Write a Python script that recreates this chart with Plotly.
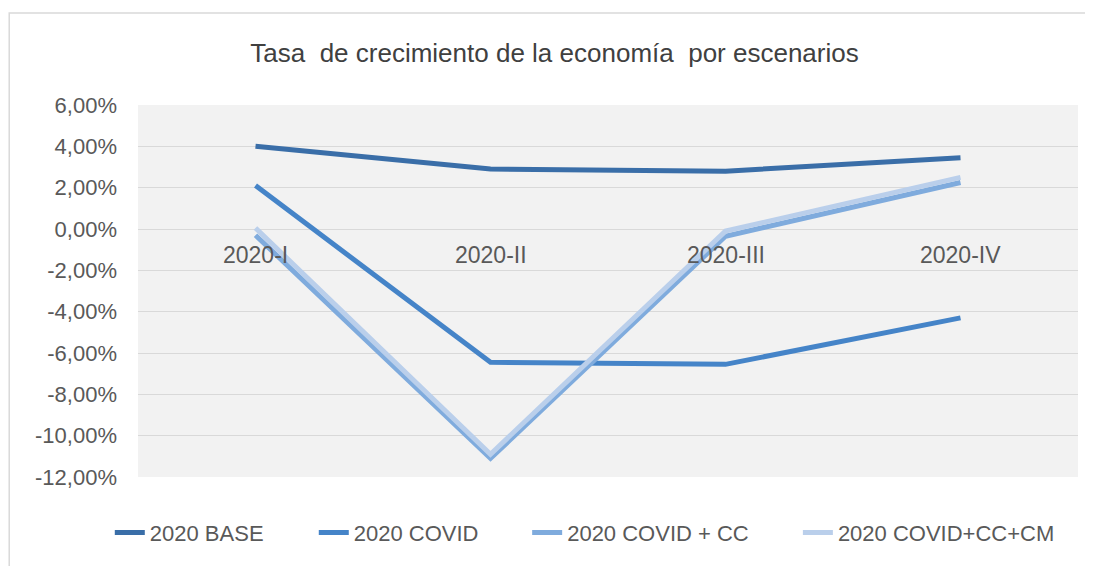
import plotly.graph_objects as go

# Tasa de crecimiento trimestral por escenario (en fracción)
trimestres = ["2020-I", "2020-II", "2020-III", "2020-IV"]
base = [0.0400, 0.0290, 0.0280, 0.0345]
covid = [0.0210, -0.0645, -0.0655, -0.0430]
covid_cc = [-0.0030, -0.1110, -0.0035, 0.0225]
covid_cc_cm = [0.0005, -0.1090, -0.0010, 0.0250]

y_ticks = [0.06, 0.04, 0.02, 0.0, -0.02, -0.04, -0.06, -0.08, -0.10, -0.12]
y_labels = ["6,00%", "4,00%", "2,00%", "0,00%", "-2,00%", "-4,00%", "-6,00%",
            "-8,00%", "-10,00%", "-12,00%"]

series = [
    ("2020 BASE", base, "#3A6EA8"),
    ("2020 COVID", covid, "#4584C8"),
    ("2020 COVID + CC", covid_cc, "#7FABDD"),
    ("2020 COVID+CC+CM", covid_cc_cm, "#BACFEB"),
]
# one legend per series so the entries spread out like the original
legend_x = [-0.030, 0.187, 0.414, 0.702]

font_fam = "Liberation Sans, Arial"
grey_txt = "#595959"

fig = go.Figure()
for i, (name, vals, col) in enumerate(series):
    lg = "legend" if i == 0 else f"legend{i + 1}"
    fig.add_trace(go.Scatter(x=trimestres, y=vals, name=name, mode="lines", legend=lg,
                             showlegend=True, line=dict(color=col, width=5)))

# category labels sit at the zero line, as in the original chart
for t in trimestres:
    fig.add_annotation(x=t, y=0, text=t, showarrow=False, yanchor="top", yshift=-11,
                       font=dict(family=font_fam, size=23, color=grey_txt))

# outer chart border
fig.add_shape(type="rect", xref="paper", yref="paper", x0=-0.137, x1=1.1, y0=-0.4, y1=1.247,
              line=dict(color="#D9D9D9", width=1.5), fillcolor="rgba(0,0,0,0)", layer="below")

legend_style = dict(orientation="h", y=-0.15, yanchor="middle", xanchor="left",
                    bgcolor="rgba(0,0,0,0)",
                    font=dict(family=font_fam, size=22, color=grey_txt))
legends = {}
for i, lx in enumerate(legend_x):
    key = "legend" if i == 0 else f"legend{i + 1}"
    legends[key] = dict(legend_style, x=lx)

fig.update_layout(
    width=1093, height=566,
    showlegend=True,
    margin=dict(l=130, r=23, t=97, b=97, autoexpand=False),
    paper_bgcolor="white", plot_bgcolor="#F2F2F2",
    title=dict(text="Tasa  de crecimiento de la economía  por escenarios", x=0.5, xanchor="center",
               y=0.92, yanchor="middle",
               font=dict(family=font_fam, size=26, color="#404040")),
    xaxis=dict(showticklabels=False, showgrid=False, zeroline=False, showline=False,
               range=[-0.5, 3.5]),
    yaxis=dict(range=[-0.12, 0.06], tickvals=y_ticks, ticktext=y_labels, showgrid=True,
               gridcolor="#D9D9D9", gridwidth=1.3, zeroline=False, showline=False,
               ticks="", ticklabelstandoff=20, automargin=False,
               tickfont=dict(family=font_fam, size=22, color=grey_txt)),
    **legends,
)

fig.write_html("out.html")
